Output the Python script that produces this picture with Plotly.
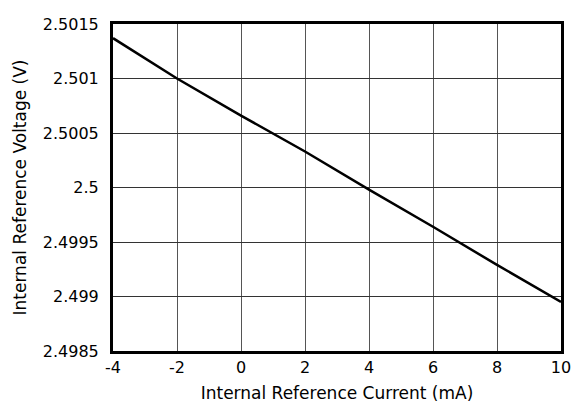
import plotly.graph_objects as go

current_ma = [-4, -2, 0, 2, 4, 6, 8, 10]
voltage_v = [2.50137, 2.50100, 2.50066, 2.50033, 2.49998, 2.49964, 2.49929, 2.49895]

x_ticks = [-4, -2, 0, 2, 4, 6, 8, 10]
y_ticks = [2.4985, 2.499, 2.4995, 2.5, 2.5005, 2.501, 2.5015]
y_tick_text = ["2.4985", "2.499", "2.4995", "2.5", "2.5005", "2.501", "2.5015"]

fig = go.Figure()
fig.add_trace(go.Scatter(x=current_ma, y=voltage_v, mode="lines",
                         line=dict(color="black", width=2.5), showlegend=False))

tick_font = dict(family="DejaVu Sans, Liberation Sans, Arial, sans-serif", size=16, color="black")
title_font = dict(family="DejaVu Sans, Liberation Sans, Arial, sans-serif", size=17, color="black")

fig.update_layout(
    width=570, height=399,
    margin=dict(l=105, r=9, t=7, b=45),
    paper_bgcolor="white", plot_bgcolor="white",
    font=tick_font,
    xaxis=dict(range=[-4, 10], tickvals=x_ticks, ticktext=[str(v) for v in x_ticks],
               showgrid=True, gridcolor="#555555", gridwidth=1,
               showline=True, linecolor="black", linewidth=3, mirror=True,
               ticks="", ticklabelstandoff=0, zeroline=False, tickfont=tick_font,
               ticklabeloverflow="allow",
               title=dict(text="Internal Reference Current (mA)", standoff=11, font=title_font)),
    yaxis=dict(range=[2.4985, 2.5015], tickvals=y_ticks, ticktext=y_tick_text,
               showgrid=True, gridcolor="#333333", gridwidth=1,
               showline=True, linecolor="black", linewidth=3, mirror=True,
               ticks="", ticklabelstandoff=8, zeroline=False, tickfont=tick_font,
               ticklabeloverflow="allow",
               title=dict(text="Internal Reference Voltage (V)", standoff=12, font=title_font)),
)

fig.write_html("out.html")
